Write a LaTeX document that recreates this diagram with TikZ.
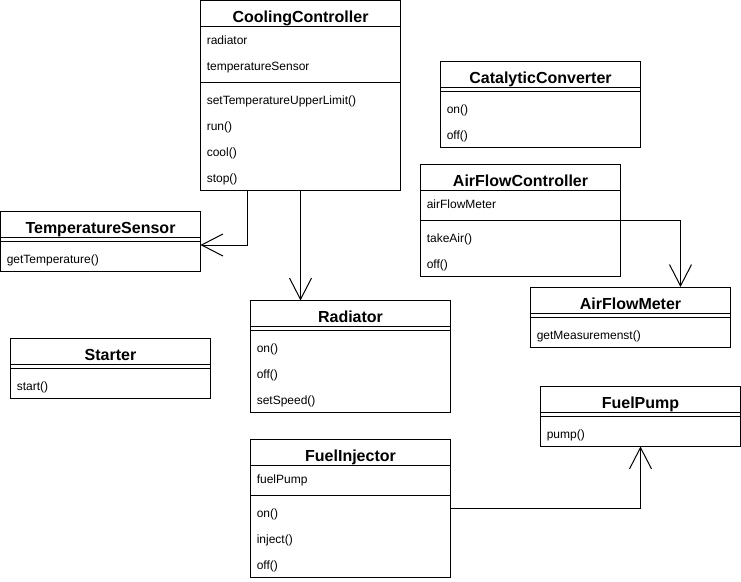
\documentclass[tikz,border=0pt]{standalone}
\usepackage{fontspec}
\setmainfont{Liberation Sans}
\usetikzlibrary{arrows.meta,calc}
\tikzset{
  cbox/.style={draw=black, line width=0.75pt, anchor=north west, minimum width=150pt, inner sep=0pt, outer sep=0pt, fill=white},
  ctitle/.style={anchor=base, inner sep=0pt, font=\fontsize{12pt}{14pt}\selectfont\bfseries},
  crow/.style={anchor=base west, inner sep=0pt, yshift=-0.75pt, font=\fontsize{9pt}{11pt}\selectfont},
  sepline/.style={line width=0.75pt},
  arr/.style={line width=0.75pt, -{Straight Barb[length=16pt, width=16.5pt, line width=0.75pt]}}
}
\begin{document}
\begin{tikzpicture}[x=0.75pt,y=-0.75pt]
\useasboundingbox[fill=white] (0,0) rectangle (741,581);

% CoolingController
\node[cbox, minimum height=190*0.75pt] (cc) at (200.5,0.5) {};
\node[ctitle] (cct) at (300.5,22.5) {CoolingController};
\draw[sepline] ($(cc.north west)+(0,26)$) -- ($(cc.north east)+(0,26)$);
\node[crow] (cc1) at (206.5,43.5) {radiator};
\node[crow] (cc2) at (206.5,69.5) {temperatureSensor};
\draw[sepline] ($(cc.north west)+(0,82)$) -- ($(cc.north east)+(0,82)$);
\node[crow] (cc3) at (206.5,103.5) {setTemperatureUpperLimit()};
\node[crow] (cc4) at (206.5,129.5) {run()};
\node[crow] (cc5) at (206.5,155.5) {cool()};
\node[crow] (cc6) at (206.5,181.5) {stop()};

% TemperatureSensor
\node[cbox, minimum height=60*0.75pt] (ts) at (0.5,211) {};
\node[ctitle] (tst) at (100.5,233) {TemperatureSensor};
\draw[sepline] ($(ts.north west)+(0,26)$) -- ($(ts.north east)+(0,26)$);
\draw[sepline] ($(ts.north west)+(0,30)$) -- ($(ts.north east)+(0,30)$);
\node[crow] (ts1) at (6.5,262) {getTemperature()};

% Starter
\node[cbox, minimum height=60*0.75pt] (st) at (10.5,338.5) {};
\node[ctitle] (stt) at (110.5,360.5) {Starter};
\draw[sepline] ($(st.north west)+(0,26)$) -- ($(st.north east)+(0,26)$);
\draw[sepline] ($(st.north west)+(0,30)$) -- ($(st.north east)+(0,30)$);
\node[crow] (st1) at (16.5,389.5) {start()};

% Radiator
\node[cbox, minimum height=112*0.75pt] (rad) at (250.5,300.5) {};
\node[ctitle] (radt) at (350.5,322.5) {Radiator};
\draw[sepline] ($(rad.north west)+(0,26)$) -- ($(rad.north east)+(0,26)$);
\draw[sepline] ($(rad.north west)+(0,30)$) -- ($(rad.north east)+(0,30)$);
\node[crow] (rad1) at (256.5,351.5) {on()};
\node[crow] (rad2) at (256.5,377.5) {off()};
\node[crow] (rad3) at (256.5,403.5) {setSpeed()};

% FuelInjector
\node[cbox, minimum height=138*0.75pt] (fi) at (250.5,439.5) {};
\node[ctitle] (fit) at (350.5,461.5) {FuelInjector};
\draw[sepline] ($(fi.north west)+(0,26)$) -- ($(fi.north east)+(0,26)$);
\node[crow] (fi1) at (256.5,482.5) {fuelPump};
\draw[sepline] ($(fi.north west)+(0,56)$) -- ($(fi.north east)+(0,56)$);
\node[crow] (fi2) at (256.5,516.5) {on()};
\node[crow] (fi3) at (256.5,542.5) {inject()};
\node[crow] (fi4) at (256.5,568.5) {off()};

% FuelPump
\node[cbox, minimum height=60*0.75pt] (fp) at (540.5,386.5) {};
\node[ctitle] (fpt) at (640.5,408.5) {FuelPump};
\draw[sepline] ($(fp.north west)+(0,26)$) -- ($(fp.north east)+(0,26)$);
\draw[sepline] ($(fp.north west)+(0,30)$) -- ($(fp.north east)+(0,30)$);
\node[crow] (fp1) at (546.5,437.5) {pump()};

% AirFlowController
\node[cbox, minimum height=112*0.75pt] (afc) at (420.5,164.5) {};
\node[ctitle] (afct) at (520.5,186.5) {AirFlowController};
\draw[sepline] ($(afc.north west)+(0,26)$) -- ($(afc.north east)+(0,26)$);
\node[crow] (afc1) at (426.5,207.5) {airFlowMeter};
\draw[sepline] ($(afc.north west)+(0,56)$) -- ($(afc.north east)+(0,56)$);
\node[crow] (afc2) at (426.5,241.5) {takeAir()};
\node[crow] (afc3) at (426.5,267.5) {off()};

% AirFlowMeter
\node[cbox, minimum height=60*0.75pt] (afm) at (530.5,287) {};
\node[ctitle] (afmt) at (630.5,309) {AirFlowMeter};
\draw[sepline] ($(afm.north west)+(0,26)$) -- ($(afm.north east)+(0,26)$);
\draw[sepline] ($(afm.north west)+(0,30)$) -- ($(afm.north east)+(0,30)$);
\node[crow] (afm1) at (536.5,338) {getMeasuremenst()};

% CatalyticConverter
\node[cbox, minimum height=86*0.75pt] (ccv) at (440.5,61.5) {};
\node[ctitle] (ccvt) at (540.5,83.5) {CatalyticConverter};
\draw[sepline] ($(ccv.north west)+(0,26)$) -- ($(ccv.north east)+(0,26)$);
\draw[sepline] ($(ccv.north west)+(0,30)$) -- ($(ccv.north east)+(0,30)$);
\node[crow] (ccv1) at (446.5,112.5) {on()};
\node[crow] (ccv2) at (446.5,138.5) {off()};

% Connectors
\draw[arr] ($(cc.south)+(-53,0)$) |- ($(ts.east)+(0,4)$);
\draw[arr] (cc.south) -- (cc.south |- rad.north);
\draw[arr] (afc.east) -| ($(afm.north)+(50,0)$);
\draw[arr] (fi.east) -| (fp.south);
\end{tikzpicture}
\end{document}
